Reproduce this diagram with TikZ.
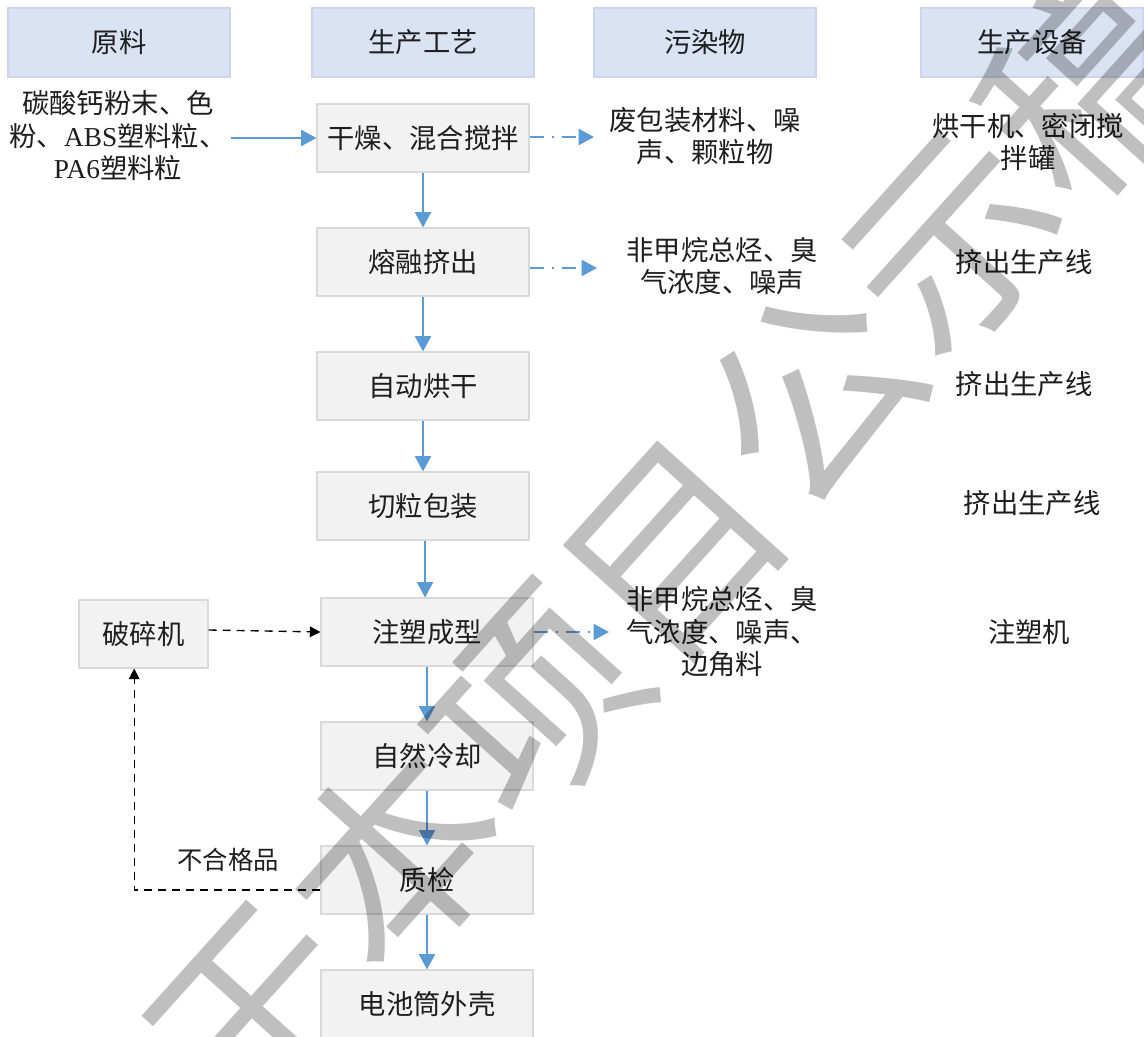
\documentclass[tikz,border=0pt]{standalone}
\usepackage{fontspec}
\setmainfont{Noto Sans CJK SC}
\newfontfamily\latinf{Liberation Serif}
\usetikzlibrary{arrows.meta}
\definecolor{hdrfill}{HTML}{DAE3F3}
\definecolor{hdrline}{HTML}{CDD5EA}
\definecolor{boxfill}{HTML}{F2F2F2}
\definecolor{boxline}{HTML}{D9D9D9}
\definecolor{flow}{HTML}{5B9BD5}
\definecolor{txt}{HTML}{1E1E1E}
\begin{document}
\begin{tikzpicture}[x=0.75pt,y=-0.75pt,
  hdr/.style={draw=hdrline, fill=hdrfill, line width=0.8pt, minimum width=166.5pt, minimum height=51.75pt, inner sep=0pt, text=txt, font=\fontsize{20.5}{24.4}\selectfont},
  proc/.style={draw=boxline, fill=boxfill, line width=0.8pt, minimum width=159pt, minimum height=51pt, inner sep=0pt, text=txt, font=\fontsize{20.5}{24.4}\selectfont},
  lbl/.style={align=center, inner sep=0pt, text=txt, font=\fontsize{20.5}{24.4}\selectfont},
  flowarr/.style={draw=flow, line width=1.5pt, -{Triangle[length=11.5pt,width=12pt]}},
  dashflow/.style={draw=flow, line width=1.5pt, dash pattern=on 11pt off 6pt on 1.2pt off 6pt, -{Triangle[length=11.5pt,width=12pt]}},
  rejarr/.style={draw=black, line width=1pt, dash pattern=on 6pt off 4.5pt, -{Triangle[length=8pt,width=8pt]}}
]
\fill[white] (0,0) rectangle (1144,1037);
\useasboundingbox (0,0) rectangle (1144,1037);

% headers
\node[hdr] (h1) at (119,42.5) {原料};
\node[hdr] (h2) at (423,42.5) {生产工艺};
\node[hdr] (h3) at (705,42.5) {污染物};
\node[hdr] (h4) at (1032,42.5) {生产设备};

% raw materials
\node[lbl] (raw) at (118,136) {碳酸钙粉末、色\\粉、{\latinf ABS}塑料粒、\\{\latinf PA6}塑料粒};

% process chain
\node[proc] (p1) at (423,138) {干燥、混合搅拌};
\node[proc] (p2) at (423,262) {熔融挤出};
\node[proc] (p3) at (423,386) {自动烘干};
\node[proc] (p4) at (423,506) {切粒包装};
\node[proc] (p5) at (427,632) {注塑成型};
\node[proc] (p6) at (427,756) {自然冷却};
\node[proc] (p7) at (427,880) {质检};
\node[proc] (p8) at (427,1004) {电池筒外壳};
\node[proc, minimum width=96.75pt] (crusher) at (143.5,634) {破碎机};

% pollutants
\node[lbl] (o1) at (705,136) {废包装材料、噪\\声、颗粒物};
\node[lbl] (o2) at (722,266) {非甲烷总烃、臭\\气浓度、噪声};
\node[lbl] (o5) at (722,632) {非甲烷总烃、臭\\气浓度、噪声、\\边角料};

% equipment
\node[lbl] (e1) at (1028,142) {烘干机、密闭搅\\拌罐};
\node[lbl] (e2) at (1024,262) {挤出生产线};
\node[lbl] (e3) at (1024,384) {挤出生产线};
\node[lbl] (e4) at (1032,503) {挤出生产线};
\node[lbl] (e5) at (1029,632) {注塑机};

% connectors
\draw[flowarr] (h1.east |- p1.west) -- (p1.west);
\draw[flowarr] (p1.south) -- (p2.north);
\draw[flowarr] (p2.south) -- (p3.north);
\draw[flowarr] (p3.south) -- (p4.north);
\draw[flowarr] ([xshift=1.5pt]p4.south) -- ([xshift=-1.5pt]p5.north);
\draw[flowarr] (p5.south) -- (p6.north);
\draw[flowarr] (p6.south) -- (p7.north);
\draw[flowarr] (p7.south) -- (p8.north);

\coordinate (o1in) at (594,137);
\coordinate (o2in) at (597,268);
\coordinate (o5in) at (609,632);
\draw[dashflow] (p1.east |- o1in) -- (o1in);
\draw[dashflow] (p2.east |- o2in) -- (o2in);
\draw[dashflow] (p5.east |- o5in) -- (o5in);

\draw[rejarr] ([yshift=3pt]crusher.east) -- ([yshift=1.5pt]crusher.east -| p5.west);
\draw[rejarr] ([yshift=-7.5pt]p7.west) -| ([xshift=-7pt]crusher.south);
\node[lbl, font=\fontsize{19}{22}\selectfont] (rej) at (228,860) {不合格品};

% watermark
\begin{scope}
\clip (0,0) rectangle (1144,1037);
\node[rotate=48, text=black, text opacity=0.25, inner sep=0pt, font=\fontsize{156}{156}\selectfont] (wm) at (672,548) {于本项目公示稿};
\end{scope}
\end{tikzpicture}
\end{document}
